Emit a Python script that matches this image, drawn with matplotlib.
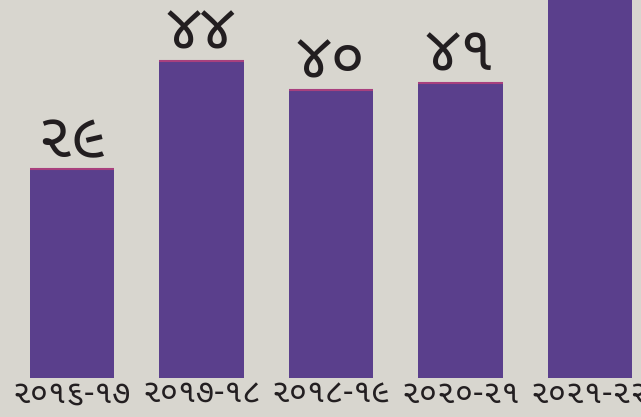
import matplotlib
matplotlib.use("Agg")
import matplotlib.pyplot as plt

categories = ["૨૦૧૬-૧૭", "૨૦૧૭-૧૮", "૨૦૧૮-૧૯", "૨૦૨૦-૨૧", "૨૦૨૧-૨૨"]
values = [29, 44, 40, 41, 55]
value_labels = ["૨૯", "૪૪", "૪૦", "૪૧", ""]

plt.rcParams['font.family'] = ['Noto Sans Gujarati', 'DejaVu Sans']

bg = "#d8d6cf"
fig = plt.figure(figsize=(6.41, 4.17), dpi=100)
fig.patch.set_facecolor(bg)
ax = fig.add_axes([0, 0.0935, 1, 0.9065])
ax.set_facecolor(bg)
x = list(range(len(categories)))
width = 0.656
bars = ax.bar(x, values, width=width, color="#5a3f8c")
ax.hlines(values, [xi - width / 2 for xi in x], [xi + width / 2 for xi in x],
          colors="#a8407e", linewidth=1.5)
ax.set_xlim(-0.556, 4.394)
ax.set_ylim(0, 52.5)
for s in ax.spines.values():
    s.set_visible(False)
ax.set_yticks([])
ax.set_xticks(x)
ax.set_xticklabels(categories, fontsize=23.5, color="#231f21", fontweight="bold")
ax.tick_params(length=0, pad=0)
for b, lab in zip(bars, value_labels):
    if lab:
        ax.annotate(lab, (b.get_x() + b.get_width() / 2, b.get_height()),
                    xytext=(0, -2), textcoords="offset points",
                    ha="center", va="bottom", fontsize=45, fontweight="bold",
                    color="#221e20")
fig.savefig("out.png", dpi=100, facecolor=fig.get_facecolor())
